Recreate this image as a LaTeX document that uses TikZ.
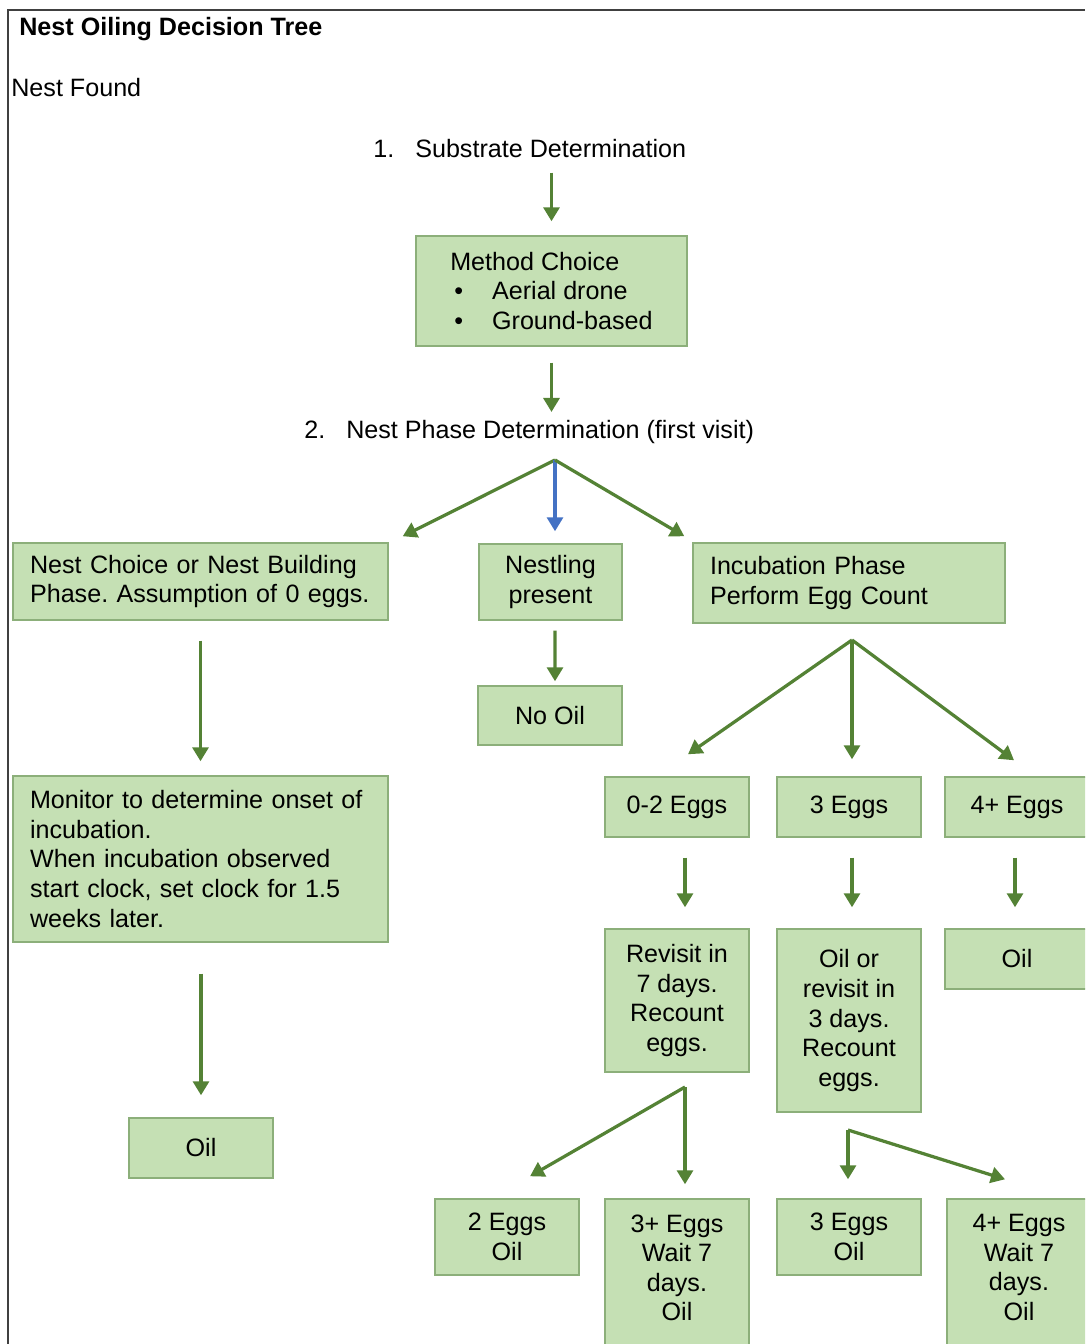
\documentclass[tikz,border=0pt]{standalone}
\usepackage{fontspec}
\setmainfont{Liberation Sans}
\usepackage{xcolor}
\usepackage{tikz}
\usetikzlibrary{arrows.meta}
\frenchspacing

\definecolor{boxfill}{HTML}{C5E0B4}
\definecolor{boxline}{HTML}{8CAF7A}
\definecolor{arrowgreen}{HTML}{548235}
\definecolor{arrowblue}{HTML}{4472C4}

\begin{document}
\begin{tikzpicture}[
    x=0.02cm,y=-0.02cm,
    font=\fontsize{14.3}{16.8}\selectfont,
    box/.style={draw=boxline, line width=0.03cm, fill=boxfill, align=center, minimum width=2.88cm, minimum height=1.2cm, inner sep=0pt},
    leftbox/.style={box, align=left, inner xsep=0.34cm},
    plain/.style={inner sep=0pt, anchor=west},
    arr/.style={draw=arrowgreen, line width=0.065cm, -{Triangle[length=0.28cm,width=0.32cm]}},
    blue arr/.style={arr, draw=arrowblue},
    frame/.style={draw=black!75, line width=0.03cm}
]
    \useasboundingbox (0,0) rectangle (1085,1344);
    \clip (0,0) rectangle (1085,1344);

    % ================= FRAME =================
    \draw[frame] (8,1344) -- (8,10) -- (1085,10);

    % ================= HEADINGS =================
    \node[plain, font=\fontsize{14.3}{16.8}\selectfont\bfseries] (title) at (19,29) {Nest Oiling Decision Tree};
    \node[plain] (found) at (11,88) {Nest Found};
    \node[plain] (substrate) at (373,149) {1.\hspace{0.42cm}Substrate Determination};
    \node[plain] (phase) at (304,432) {2.\hspace{0.42cm}Nest Phase Determination (first visit)};

    % ================= BOXES =================
    \node[box, minimum width=5.42cm, minimum height=2.2cm, align=left] (method) at (551.5,291) {Method Choice\\\hspace*{0.08cm}\textbullet\hspace{0.58cm}Aerial drone\\\hspace*{0.08cm}\textbullet\hspace{0.58cm}Ground-based};

    \node[leftbox, text width=6.82cm, minimum height=1.54cm] (nestchoice) at (200.5,581.5) {Nest Choice or Nest Building\\Phase. Assumption of 0 eggs.};
    \node[box, minimum width=2.86cm, minimum height=1.52cm] (nestling) at (550.5,582) {Nestling\\present};
    \node[leftbox, text width=5.56cm, minimum height=1.6cm] (incubation) at (849,583) {Incubation Phase\\Perform Egg Count};
    \node[box, minimum height=1.18cm] (nooil) at (550,715.5) {No Oil};

    \node[leftbox, text width=6.82cm, minimum height=3.32cm] (monitor) at (200.5,859) {Monitor to determine onset of\\incubation.\\When incubation observed\\start clock, set clock for 1.5\\weeks later.};
    \node[box] (oilleft) at (201,1148) {Oil};

    \node[box] (eggslow) at (677,807) {0-2 Eggs};
    \node[box] (eggsmid) at (849,807) {3 Eggs};
    \node[box] (eggshigh) at (1017,807) {4+ Eggs};

    \node[box, minimum height=2.86cm] (revisit) at (677,1000.5) {Revisit in\\7 days.\\Recount\\eggs.};
    \node[box, minimum height=3.66cm] (oilrevisit) at (849,1020.5) {Oil or\\revisit in\\3 days.\\Recount\\eggs.};
    \node[box] (oilright) at (1017,959) {Oil};

    \node[box, minimum height=1.52cm] (twooil) at (507,1237) {2 Eggs\\Oil};
    \node[box, minimum height=3.02cm, text depth=0.28cm] (threewait) at (677,1274.5) {3+ Eggs\\Wait 7\\days.\\Oil};
    \node[box, minimum height=1.52cm] (threeoil) at (849,1237) {3 Eggs\\Oil};
    \node[box, minimum height=3.02cm, text depth=0.28cm] (fourwait) at (1019,1274.5) {4+ Eggs\\Wait 7\\days.\\Oil};

    % ================= CONNECTORS =================
    \draw[arr, shorten <=0.28cm, shorten >=0.28cm] (method.north |- substrate.south) -- (method.north);
    \draw[arr, shorten <=0.32cm, shorten >=0.16cm] (method.south) -- (method.south |- phase.north);

    % phase split
    \coordinate (phasefork) at (555,460);
    \draw[arr] (phasefork) -- ([shift={(14,-6)}]nestchoice.north east);
    \draw[blue arr, shorten >=0.24cm] (phasefork) -- (phasefork |- nestling.north);
    \draw[arr] (phasefork) -- ([shift={(-8,-6)}]incubation.north west);

    \draw[arr, shorten <=0.4cm, shorten >=0.28cm] (nestchoice.south) -- (monitor.north);
    \draw[arr, shorten <=0.62cm, shorten >=0.44cm] (oilleft.north |- monitor.south) -- (oilleft.north);
    \draw[arr, shorten <=0.2cm, shorten >=0.08cm] ([shift={(4.5,0)}]nestling.south) -- ([shift={(5,0)}]nooil.north);

    % egg count split
    \coordinate (countfork) at (852,640);
    \draw[arr] (countfork) -- ([shift={(11,-22)}]eggslow.north);
    \draw[arr, shorten >=0.34cm] (countfork) -- (countfork |- eggsmid.north);
    \draw[arr] (countfork) -- ([shift={(-3,-16)}]eggshigh.north);

    \draw[arr, shorten <=0.4cm, shorten >=0.42cm] ([shift={(8,0)}]eggslow.south) -- ([shift={(8,0)}]revisit.north);
    \draw[arr, shorten <=0.4cm, shorten >=0.42cm] ([shift={(3,0)}]eggsmid.south) -- ([shift={(3,0)}]oilrevisit.north);
    \draw[arr, shorten <=0.4cm, shorten >=0.42cm] ([shift={(-2,0)}]eggshigh.south) -- ([shift={(-2,0)}]oilright.north);

    % recount splits
    \coordinate (recountfork) at (685,1087);
    \draw[arr] (recountfork) -- ([shift={(23,-22)}]twooil.north);
    \draw[arr, shorten >=0.28cm] (recountfork) -- (recountfork |- threewait.north);

    \coordinate (secondfork) at (848,1130);
    \draw[arr, shorten >=0.38cm] (secondfork) -- (secondfork |- threeoil.north);
    \draw[arr] (secondfork) -- ([shift={(-14,-19)}]fourwait.north);

\end{tikzpicture}
\end{document}
